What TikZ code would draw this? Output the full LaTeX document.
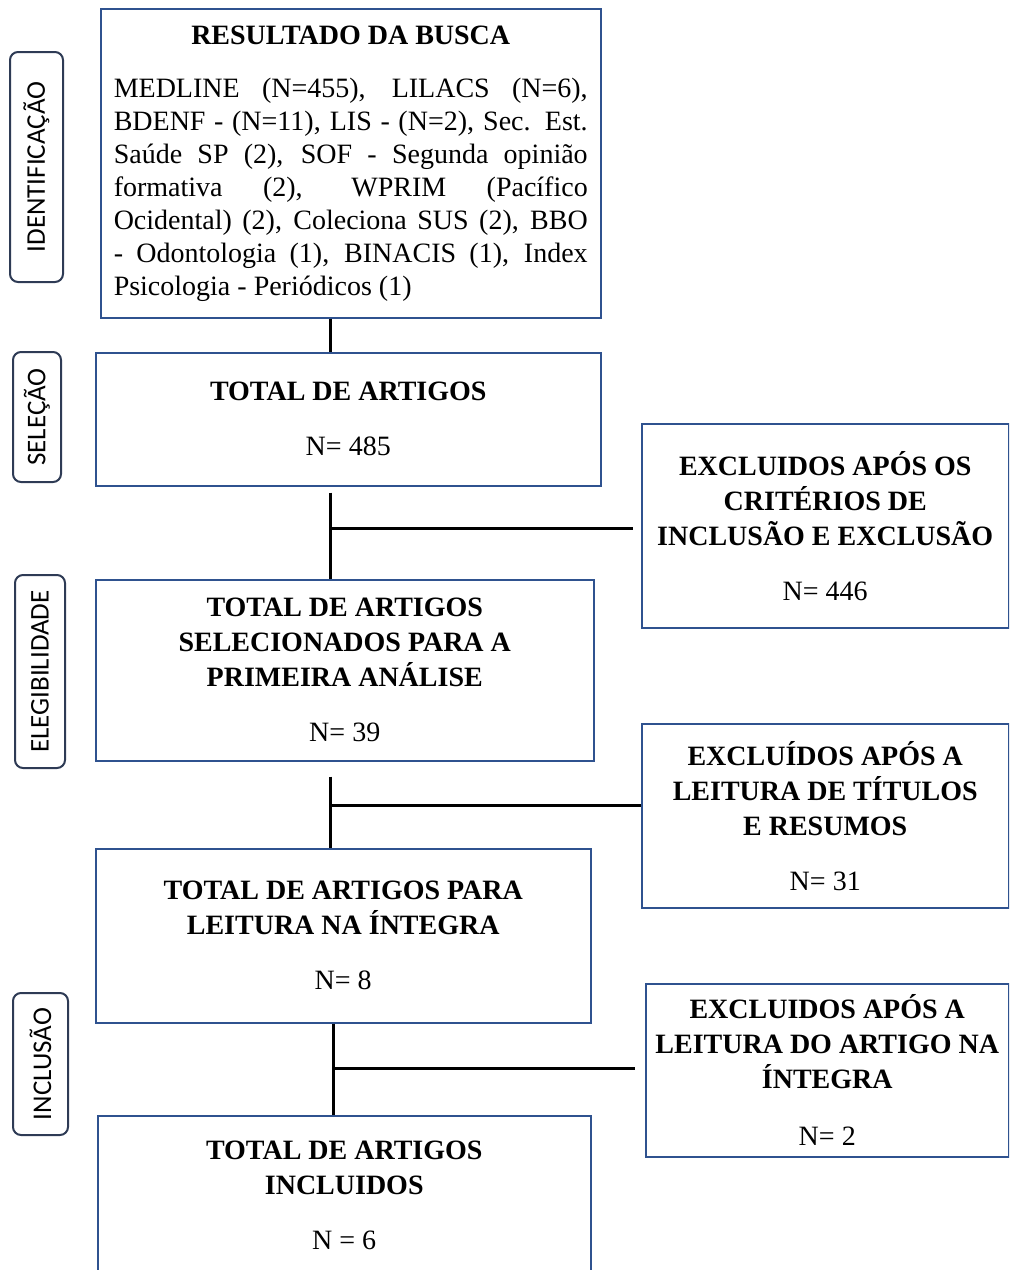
\documentclass[tikz,border=0pt]{standalone}
\usepackage{fontspec}
\setmainfont{Liberation Serif}
\newfontfamily\labelfont{Carlito}
\usepackage{xcolor}
\definecolor{boxline}{HTML}{2F528F}
\definecolor{tagline}{HTML}{2E3B55}
\usepackage{tikz}
\usetikzlibrary{positioning, calc}

\begin{document}
\begin{tikzpicture}[
  x=0.5pt, y=-0.5pt,
  every node/.style={font=\fontsize{14}{17}\selectfont},
  box/.style={draw=boxline, line width=0.75pt, anchor=north west, align=center,
              inner sep=4pt, font=\fontsize{14}{17.5}\selectfont\bfseries},
  tag/.style={draw=tagline, line width=1pt, rounded corners=4pt, rotate=90,
              inner sep=0pt, font=\labelfont\fontsize{13.5}{16}\selectfont},
  link/.style={line width=1.5pt, color=black},
]
\clip (0,0) rectangle (1009,1270);

% Phase tags — left margin
\node[tag, minimum width=115pt, minimum height=26.5pt] (ident) at (36.5,167)  {IDENTIFICAÇÃO};
\node[tag, minimum width=65pt,  minimum height=24pt]   (selecao) at (37,417)  {SELEÇÃO};
\node[tag, minimum width=96.5pt, minimum height=25pt]  (eleg) at (40,671.5)   {ELEGIBILIDADE};
\node[tag, minimum width=71pt,  minimum height=27.5pt] (inclusao) at (40.5,1064) {INCLUSÃO};

% Main column — search results and totals
\node[box, minimum width=250pt, minimum height=154.5pt, text width=237pt, align=justify,
      font=\fontsize{14}{16.5}\selectfont] (busca) at (100,8)
  {{\centering\bfseries RESULTADO DA BUSCA\par}\vspace{10pt}%
   \hyphenpenalty=10000\tolerance=9999\emergencystretch=2em
   MEDLINE (N=455), LILACS (N=6),\linebreak
   BDENF - (N=11), LIS - (N=2), Sec. Est.\linebreak
   Saúde SP (2), SOF - Segunda opinião\linebreak
   formativa (2), WPRIM (Pacífico\linebreak
   Ocidental) (2), Coleciona SUS (2), BBO\linebreak
   - Odontologia (1), BINACIS (1), Index\linebreak
   Psicologia - Periódicos (1)\par\vspace{5pt}};
\node[box, minimum width=252.5pt, minimum height=66.5pt] (total) at (95,352)
  {TOTAL DE ARTIGOS\\[10pt]{\mdseries N= 485}};
\node[box, minimum width=249pt, minimum height=90.5pt] (selec) at (95,579)
  {TOTAL DE ARTIGOS\\SELECIONADOS PARA A\\PRIMEIRA ANÁLISE\\[10pt]{\mdseries N= 39}};
\node[box, minimum width=247.5pt, minimum height=87pt] (leitura) at (95,848)
  {TOTAL DE ARTIGOS PARA\\LEITURA NA ÍNTEGRA\\[10pt]{\mdseries N= 8}};
\node[box, minimum width=246.5pt, minimum height=80pt] (incl) at (97,1115)
  {TOTAL DE ARTIGOS\\INCLUIDOS\\[10pt]{\mdseries N = 6}};

% Right column — exclusions
\node[box, minimum width=183.5pt, minimum height=102pt] (excA) at (641,423)
  {EXCLUIDOS APÓS OS\\CRITÉRIOS DE\\INCLUSÃO E EXCLUSÃO\\[10pt]{\mdseries N= 446}};
\node[box, minimum width=183.5pt, minimum height=92pt] (excB) at (641,723)
  {EXCLUÍDOS APÓS A\\LEITURA DE TÍTULOS\\E RESUMOS\\[10pt]{\mdseries N= 31}};
\node[box, minimum width=181.5pt, minimum height=86.5pt] (excC) at (645,983)
  {EXCLUIDOS APÓS A\\LEITURA DO ARTIGO NA\\ÍNTEGRA\\[11pt]{\mdseries N= 2}};

% Connectors — vertical spine
\coordinate (spine)  at (330,0);
\coordinate (spineB) at (333,0);
\draw[link] (spine |- busca.south) -- (spine |- total.north);
\draw[link, shorten <=3pt] (spine |- total.south) -- (spine |- selec.north);
\draw[link, shorten <=7.5pt] (spine |- selec.south) -- (spine |- leitura.north);
\draw[link] (spineB |- leitura.south) -- (spineB |- incl.north);

% Connectors — branches to exclusions
\coordinate (jA) at (330,528);
\coordinate (jB) at (330,805);
\coordinate (jC) at (333,1068);
\draw[link, shorten >=4pt] (jA) -- (jA -| excA.west);
\draw[link] (jB) -- (jB -| excB.west);
\draw[link, shorten >=5pt] (jC) -- (jC -| excC.west);

\end{tikzpicture}
\end{document}
